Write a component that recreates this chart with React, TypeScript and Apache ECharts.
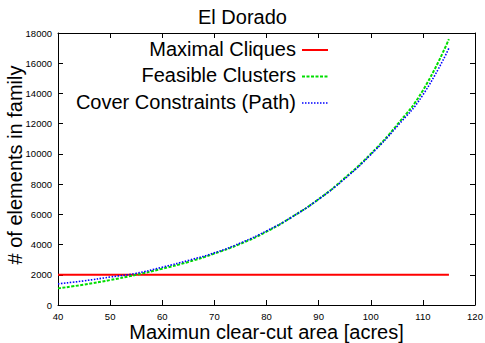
import React, { useEffect, useRef } from "react";
import * as echarts from "echarts";

const xValues = [40, 45, 50, 55, 60, 65, 70, 75, 80, 85, 90, 95, 100, 105, 110, 115];
const maximalCliques = [2000, 2000, 2000, 2000, 2000, 2000, 2000, 2000, 2000, 2000, 2000, 2000, 2000, 2000, 2000, 2000];
const feasibleClusters = [1100, 1350, 1650, 2000, 2400, 2850, 3400, 4050, 4850, 5850, 7000, 8400, 10000, 11900, 14200, 17600];
const coverConstraints = [1400, 1600, 1850, 2100, 2500, 2950, 3450, 4100, 4900, 5850, 7000, 8350, 9950, 11800, 13900, 17000];
const seriesNames = ["Maximal Cliques", "Feasible Clusters", "Cover Constraints (Path)"];
const colors = ["#ff0000", "#00dd00", "#0000ff"];

const FONT = "Liberation Sans, Arial, sans-serif";

export default function App() {
  const ref = useRef<HTMLDivElement>(null);
  useEffect(() => {
    const chart = echarts.init(ref.current!, null, { renderer: "svg" });
    const pair = (ys: number[]) => xValues.map((x, i) => [x, ys[i]]);
    const legendY = [50, 76.5, 103];
    const graphic: any[] = [];
    seriesNames.forEach((name, i) => {
      graphic.push({
        type: "text",
        x: 296,
        y: legendY[i] - 1.5,
        style: {
          text: name,
          fontFamily: FONT,
          fontSize: 20,
          fill: "#000",
          align: "right",
          verticalAlign: "middle",
        },
      });
      graphic.push({
        type: "line",
        shape: { x1: 302, y1: legendY[i], x2: 328, y2: legendY[i] },
        style: {
          stroke: colors[i],
          lineWidth: i === 2 ? 1.6 : 2,
          lineDash: i === 0 ? null : i === 1 ? [3, 1.5] : [1.5, 1.5],
        },
      });
    });
    const axisCommon = {
      type: "value" as const,
      axisLine: { show: true, onZero: false, lineStyle: { color: "#000", width: 1 } },
      axisTick: { show: true, inside: true, length: 5, lineStyle: { color: "#000" } },
      splitLine: { show: false },
    };
    const plain = (v: number) => String(v);
    chart.setOption({
      animation: false,
      backgroundColor: "#fff",
      title: {
        text: "El Dorado",
        left: "center",
        top: 2,
        textStyle: { fontFamily: FONT, fontSize: 20, fontWeight: "normal", color: "#000" },
      },
      grid: { left: 58, right: 10, top: 33, bottom: 38, containLabel: false, outerBoundsMode: "none" },
      xAxis: [
        {
          ...axisCommon,
          min: 40,
          max: 120,
          interval: 10,
          name: "Maximun clear-cut area [acres]",
          nameLocation: "middle",
          nameGap: 17,
          nameMoveOverlap: false,
          nameTextStyle: { fontFamily: FONT, fontSize: 20, color: "#000", verticalAlign: "top" },
          axisLabel: { fontFamily: FONT, fontSize: 9.5, color: "#000", margin: 6, formatter: plain },
        },
        {
          ...axisCommon,
          position: "top",
          min: 40,
          max: 120,
          interval: 10,
          axisLabel: { show: false },
        },
      ],
      yAxis: [
        {
          ...axisCommon,
          min: 0,
          max: 18000,
          interval: 2000,
          name: "# of elements in family",
          nameLocation: "middle",
          nameGap: 33,
          nameMoveOverlap: false,
          nameTextStyle: { fontFamily: FONT, fontSize: 20, color: "#000", padding: [0, 0, 0, 8] },
          axisLabel: { fontFamily: FONT, fontSize: 9.5, color: "#000", margin: 6, formatter: plain },
        },
        {
          ...axisCommon,
          position: "right",
          min: 0,
          max: 18000,
          interval: 2000,
          axisLabel: { show: false },
        },
      ],
      series: [
        {
          name: seriesNames[0],
          type: "line",
          data: pair(maximalCliques),
          showSymbol: false,
          lineStyle: { color: colors[0], width: 2 },
        },
        {
          name: seriesNames[1],
          type: "line",
          smooth: true,
          data: pair(feasibleClusters),
          showSymbol: false,
          lineStyle: { color: colors[1], width: 2, type: [3, 1.5] },
        },
        {
          name: seriesNames[2],
          type: "line",
          smooth: true,
          data: pair(coverConstraints),
          showSymbol: false,
          lineStyle: { color: colors[2], width: 1.6, type: [1.5, 1.5] },
        },
      ],
      graphic,
    });
    return () => chart.dispose();
  }, []);
  return <div ref={ref} style={{ width: 485, height: 343, position: "absolute", left: 0, top: 0 }} />;
}
